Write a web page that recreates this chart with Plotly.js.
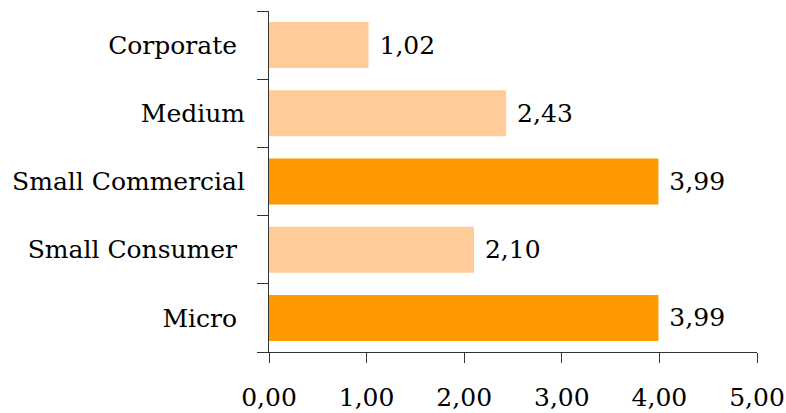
<!DOCTYPE html>
<html>
<head>
<meta charset="utf-8">
<script src="https://cdn.plot.ly/plotly-3.0.1.min.js"></script>
<style>
  html, body { margin: 0; padding: 0; background: #fff; }
  #chart { width: 786px; height: 413px; }
</style>
</head>
<body>
<div id="chart"></div>
<script>
// Segments, bottom to top
const segments = ["Micro\u00a0", "Small Consumer\u00a0", "Small Commercial", "Medium", "Corporate\u00a0"];
const values = [3.99, 2.10, 3.99, 2.43, 1.02];
const barColors = ["#FF9900", "#FFCC99", "#FF9900", "#FFCC99", "#FFCC99"];
const xTickValues = [0, 1, 2, 3, 4, 5];

const fontFamily = "'DejaVu Serif', 'Liberation Serif', serif";
const fontSize = 25;

const trace = {
  type: "bar",
  orientation: "h",
  y: segments,
  x: values,
  marker: { color: barColors, line: { width: 0 } },
  // value labels with a small lead space, decimal comma
  text: values.map(v => "\u00a0" + v.toFixed(2).replace(".", ",")),
  textposition: "outside",
  cliponaxis: false,
  textfont: { family: fontFamily, size: fontSize, color: "#000" },
  hoverinfo: "skip"
};

const layout = {
  width: 786,
  height: 413,
  margin: { l: 269, r: 29, t: 11, b: 61, pad: 0 },
  paper_bgcolor: "#fff",
  plot_bgcolor: "#fff",
  separators: ",.",
  bargap: 0.325,
  showlegend: false,
  font: { family: fontFamily, size: fontSize, color: "#000" },
  xaxis: {
    range: [0, 5],
    tickvals: xTickValues,
    tickformat: ".2f",
    showgrid: false,
    zeroline: false,
    showline: true,
    linecolor: "#333",
    linewidth: 1,
    ticks: "outside",
    ticklen: 10,
    tickcolor: "#333",
    ticklabelstandoff: 13,
    fixedrange: true
  },
  yaxis: {
    type: "category",
    categoryorder: "array",
    categoryarray: segments,
    range: [-0.5, 4.5],
    tickson: "boundaries",
    showgrid: false,
    zeroline: false,
    showline: true,
    linecolor: "#333",
    linewidth: 1,
    ticks: "outside",
    ticklen: 11,
    tickcolor: "#333",
    ticklabelstandoff: 18,
    fixedrange: true
  }
};

Plotly.newPlot("chart", [trace], layout, { displayModeBar: false, staticPlot: true });
</script>
</body>
</html>
